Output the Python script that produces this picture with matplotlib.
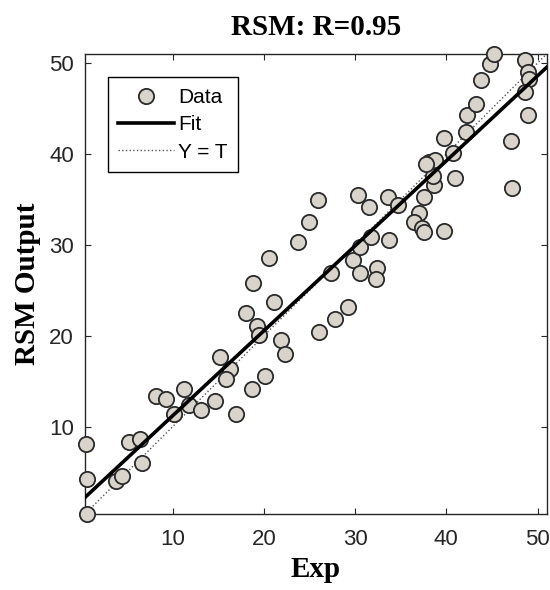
import numpy as np
import matplotlib
matplotlib.use('Agg')
import matplotlib.pyplot as plt

# 实验值 (Exp) 与 RSM 预测值
exp_vals = [0.5, 0.6, 0.6, 3.8, 4.5, 5.2, 6.4, 6.7, 8.2, 9.3,
            10.2, 11.2, 11.8, 13.1, 14.6, 15.2, 16.3, 15.8, 17.0, 18.7,
            20.1, 18.1, 19.2, 19.5, 21.1, 21.9, 22.3, 18.8, 20.6, 23.7,
            24.9, 25.9, 26.0, 27.8, 29.2, 27.4, 29.8, 30.5, 30.5, 32.4,
            32.3, 30.3, 31.5, 31.7, 33.7, 33.65, 34.7, 37.5, 37.0, 36.5,
            37.3, 37.6, 39.75, 38.6, 38.5, 41.0, 38.1, 38.8, 37.8, 39.75,
            40.7, 42.2, 42.3, 43.3, 43.8, 44.76, 45.2, 47.1, 47.2, 48.6,
            48.9, 49.1, 48.6, 49.0]
rsm_vals = [8.1, 4.3, 0.4, 4.0, 4.6, 8.3, 8.65, 6.0, 13.4, 13.1,
            11.4, 14.2, 12.4, 11.8, 12.8, 17.7, 16.3, 15.3, 11.4, 14.2,
            15.6, 22.5, 21.1, 20.1, 23.7, 19.5, 18.0, 25.8, 28.6, 30.3,
            32.5, 34.9, 20.4, 21.8, 23.2, 26.9, 28.3, 29.8, 26.9, 27.5,
            26.3, 35.5, 34.2, 30.9, 30.5, 35.3, 34.4, 35.3, 33.5, 32.5,
            31.9, 31.4, 31.5, 36.6, 37.6, 37.4, 39.1, 39.3, 38.9, 41.8,
            40.15, 42.4, 44.3, 45.5, 48.1, 49.9, 51.0, 41.4, 36.3, 50.3,
            49.0, 48.2, 46.8, 44.3]
ticks = [10, 20, 30, 40, 50]
r_value = 0.95
# 拟合线系数
fit_slope = 0.935
fit_intercept = 1.85

T = np.array(exp_vals)
Y = np.array(rsm_vals)
lim = [0.4, 51.0]
xx = np.array(lim)

fig = plt.figure(figsize=(5.5, 5.9), dpi=100)
ax = fig.add_axes([0.1545, 0.1288, 0.8395, 0.7797])

ax.plot(T, Y, 'o', ms=11, mfc='#d8d4cc', mec='#2a2a2a', mew=1.3,
        clip_on=False, zorder=3, label='Data')
ax.plot(xx, fit_slope * xx + fit_intercept, '-', color='black', lw=2.6,
        zorder=4, label='Fit')
ax.plot(xx, xx, ':', color='#555555', lw=1.0, zorder=2, label='Y = T')

ax.set_xlim(lim)
ax.set_ylim(lim)
ax.set_xticks(ticks)
ax.set_yticks(ticks)

for sp in ax.spines.values():
    sp.set_color('#262626')
    sp.set_linewidth(1.0)
ax.tick_params(direction='in', length=4, width=0.8, colors='#262626',
               top=True, right=True, labelsize=16)
ax.tick_params(axis='x', pad=11)
ax.tick_params(axis='y', pad=8)
for lab in ax.get_xticklabels() + ax.get_yticklabels():
    lab.set_family('Liberation Sans')

serif = {'family': 'Liberation Serif', 'weight': 'bold', 'size': 21}
ax.set_title(f'RSM: R={r_value:.2f}', fontdict=serif, pad=14)
ax.set_xlabel('Exp', fontdict=serif, labelpad=4)
ax.set_ylabel('RSM Output', fontdict=serif, labelpad=6)

leg = ax.legend(loc='upper left', bbox_to_anchor=(0.049, 0.949),
                borderaxespad=0, fancybox=False, framealpha=1,
                edgecolor='black', handlelength=2.7, handletextpad=0.2,
                labelspacing=0.4, borderpad=0.5,
                prop={'family': 'Liberation Sans', 'size': 15})
leg.get_frame().set_linewidth(1.0)

plt.savefig('out.png', dpi=100)
plt.close()
